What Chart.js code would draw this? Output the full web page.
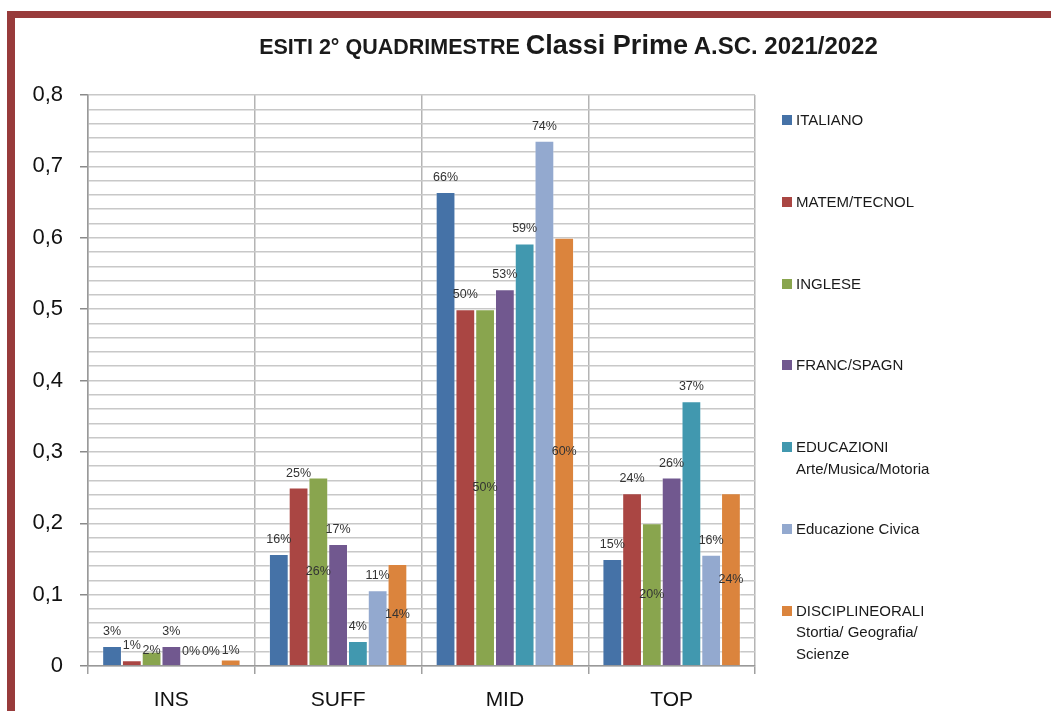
<!DOCTYPE html>
<html>
<head>
<meta charset="utf-8">
<script src="https://cdn.jsdelivr.net/npm/chart.js@4/dist/chart.umd.min.js"></script>
<style>
    html, body { margin: 0; padding: 0; background: #fff; }
    body { width: 1051px; height: 711px; position: relative; overflow: hidden; }
    .frame { position: absolute; left: 7px; top: 11px; right: -20px; bottom: -20px;
             border-left: 8px solid #983b3b; border-top: 7px solid #983b3b; }
    #chartWrap { position: absolute; left: 0; top: 0; width: 1051px; height: 711px; }
    .title { position: absolute; left: 0; width: 1137px; top: 29px; text-align: center;
             font-family: 'Liberation Sans', sans-serif; font-weight: bold;
             color: #1a1a1a; white-space: nowrap; line-height: 32px; }
    .title .s1 { font-size: 21.5px; }
    .title .b { font-size: 27px; }
    .title .s2 { font-size: 24px; }
    .legend-item { position: absolute; left: 782px; font-family: 'Liberation Sans', sans-serif;
                   font-size: 15px; color: #1a1a1a; line-height: 21.5px; }
    .legend-item .sw { position: absolute; left: 0; top: 6px; width: 10px; height: 10px; }
    .legend-item .txt { margin-left: 14px; }
</style>
</head>
<body>
<div class="frame"></div>
<div id="chartWrap"><canvas id="esitiChart" width="1051" height="711"></canvas></div>
<div class="title"><span class="s1">ESITI 2° QUADRIMESTRE </span><span class="b">Classi Prime</span><span class="s2"> A.SC. 2021/2022</span></div>
<div id="legend"></div>
<script>
const categories = ['INS', 'SUFF', 'MID', 'TOP'];

const italiano   = [0.028, 0.157, 0.664, 0.150];
const matem      = [0.008, 0.250, 0.500, 0.242];
const inglese    = [0.020, 0.264, 0.500, 0.200];
const franc      = [0.028, 0.171, 0.528, 0.264];
const educazioni = [0.000, 0.035, 0.592, 0.371];
const civica     = [0.000, 0.106, 0.736, 0.156];
const discipline = [0.009, 0.143, 0.600, 0.242];

const seriesNames = [
    ['ITALIANO'],
    ['MATEM/TECNOL'],
    ['INGLESE'],
    ['FRANC/SPAGN'],
    ['EDUCAZIONI', 'Arte/Musica/Motoria'],
    ['Educazione Civica'],
    ['DISCIPLINEORALI', 'Stortia/ Geografia/', 'Scienze']
];
const seriesValues = [italiano, matem, inglese, franc, educazioni, civica, discipline];
const colors = ['#4572a7', '#aa4643', '#89a54e', '#71588f', '#4198af', '#93a9cf', '#db843d'];
// Excel put these labels inside the bar, the rest sit on top
const labelAnchors = ['end', 'end', 'center', 'end', 'end', 'end', 'center'];

const yMin = 0;
const yMax = 0.8;
const yStep = 0.02;

function isMajor(v) {
    return Math.abs(v * 10 - Math.round(v * 10)) < 1e-6;
}

const barLabels = {
    id: 'barLabels',
    afterDatasetsDraw(chart) {
        const ctx = chart.ctx;
        ctx.save();
        ctx.font = '12.5px "Liberation Sans", sans-serif';
        ctx.fillStyle = '#333';
        ctx.textAlign = 'center';
        ctx.textBaseline = 'middle';
        chart.data.datasets.forEach((ds, i) => {
            chart.getDatasetMeta(i).data.forEach((bar, j) => {
                const text = Math.round(ds.data[j] * 100) + '%';
                let y;
                if (ds.labelAnchor === 'center') {
                    y = Math.min((bar.y + bar.base) / 2, bar.base - 15);
                } else {
                    y = bar.y - 14.5;
                }
                ctx.fillText(text, bar.x, y);
            });
        });
        ctx.restore();
    }
};

new Chart(document.getElementById('esitiChart'), {
    type: 'bar',
    data: {
        labels: categories,
        datasets: seriesValues.map((vals, i) => ({
            label: seriesNames[i].join(' '),
            data: vals,
            backgroundColor: colors[i],
            borderColor: 'rgba(255,255,255,0.35)',
            borderWidth: 1,
            categoryPercentage: 0.83,
            barPercentage: 1.0,
            labelAnchor: labelAnchors[i]
        }))
    },
    options: {
        responsive: false,
        animation: false,
        layout: { padding: { left: 0, top: 95, right: 296, bottom: 0 } },
        plugins: {
            legend: { display: false },
            title: { display: false },
            tooltip: { enabled: false }
        },
        scales: {
            x: {
                grid: { color: '#b4b4b4', lineWidth: 1.5, tickLength: 8, offset: true, tickColor: '#a0a0a0' },
                border: { color: '#999', width: 1.5 },
                ticks: {
                    color: '#111',
                    padding: 14,
                    font: { family: 'Liberation Sans', size: 21 }
                },
                afterFit(scale) { scale.height = 45; }
            },
            y: {
                min: yMin,
                max: yMax,
                grid: {
                    color: '#c8c8c8',
                    lineWidth: 1.5,
                    tickLength: 8,
                    tickColor: ctx => isMajor(ctx.tick.value) ? '#8a8a8a' : 'rgba(0,0,0,0)'
                },
                border: { color: '#999', width: 1.5 },
                ticks: {
                    stepSize: yStep,
                    autoSkip: false,
                    padding: 17,
                    color: '#111',
                    font: { family: 'Liberation Sans', size: 22 },
                    callback: v => {
                        if (!isMajor(v)) return '';
                        if (Math.abs(v) < 1e-9) return '0';
                        return v.toFixed(1).replace('.', ',');
                    }
                },
                afterFit(scale) { scale.width = 88; }
            }
        }
    },
    plugins: [barLabels]
});

const legend = document.getElementById('legend');
seriesNames.forEach((lines, i) => {
    const item = document.createElement('div');
    item.className = 'legend-item';
    item.style.top = (120 - 11 + 81.8 * i) + 'px';
    item.innerHTML = '<span class="sw" style="background:' + colors[i] + '"></span>' +
        '<div class="txt">' + lines.join('<br>') + '</div>';
    legend.appendChild(item);
});
</script>
</body>
</html>
